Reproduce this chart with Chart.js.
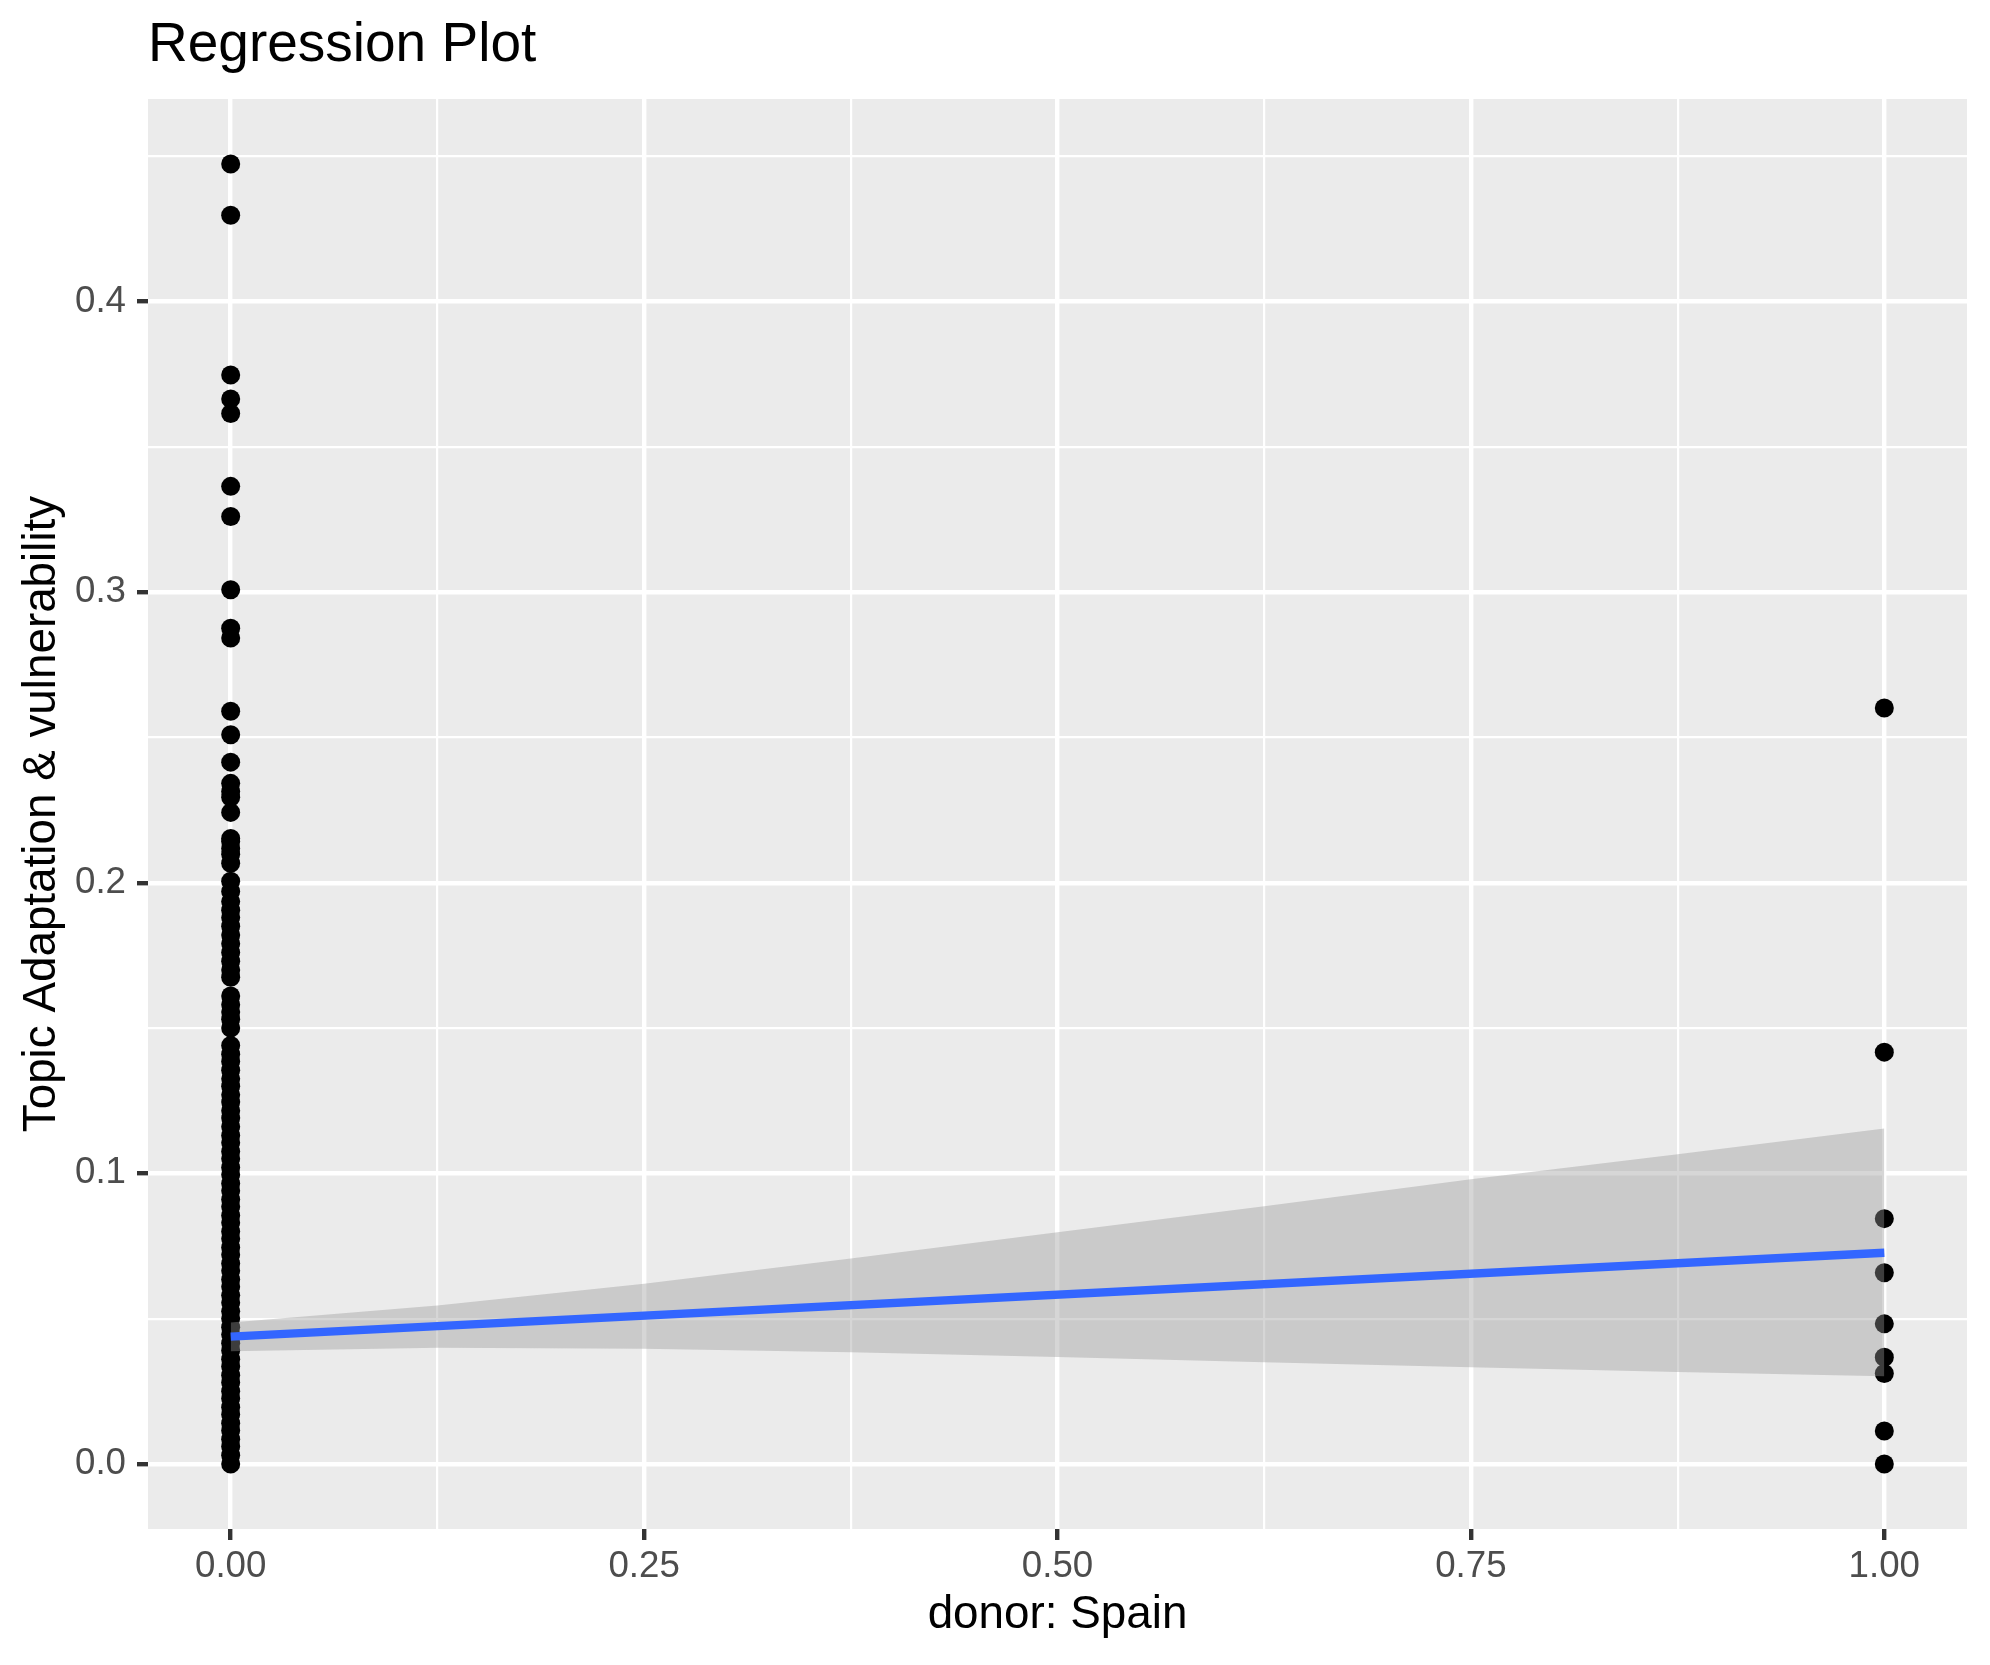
<!DOCTYPE html>
<html>
<head>
<meta charset="utf-8">
<script src="https://cdn.jsdelivr.net/npm/chart.js@4/dist/chart.umd.min.js"></script>
<style>
  html, body { margin: 0; padding: 0; background: #ffffff; }
  canvas { display: block; }
</style>
</head>
<body>
<canvas id="regChart" width="1990" height="1665"></canvas>
<script>
const spainNo = [
  0.4473, 0.4297, 0.3747, 0.3665, 0.3615, 0.3364, 0.3260, 0.3008, 0.2876, 0.2842,
  0.2590, 0.2509, 0.2415, 0.2342, 0.2314, 0.2294, 0.2242, 0.2152, 0.2142, 0.2118,
  0.2098, 0.2067,
  0.2005, 0.1970, 0.1935, 0.1905, 0.1880, 0.1850, 0.1820, 0.1790, 0.1760, 0.1730,
  0.1700, 0.1675, 0.1610, 0.1580, 0.1555, 0.1530, 0.1500, 0.1440, 0.1410, 0.1385,
  0.1355, 0.1325, 0.1300, 0.1270, 0.1245, 0.1215, 0.1190, 0.1160, 0.1130, 0.1105,
  0.1075, 0.1050, 0.1020, 0.0995, 0.0965, 0.0940, 0.0910, 0.0885, 0.0855, 0.0830,
  0.0800, 0.0775, 0.0745, 0.0720, 0.0690, 0.0665, 0.0635, 0.0610, 0.0580, 0.0555,
  0.0525, 0.0500, 0.0470, 0.0445, 0.0415, 0.0390, 0.0360, 0.0335, 0.0305, 0.0280,
  0.0250, 0.0225, 0.0195, 0.0170, 0.0140, 0.0115, 0.0085, 0.0060, 0.0030, 0.0000
];
// observations at donor = 1
const spainYes = [0.2601, 0.1417, 0.0844, 0.0658, 0.0482, 0.0367, 0.0311, 0.0113, 0.0000];

// fitted line and confidence band
const fitX = [0, 1];
const fitY = [0.0438, 0.0727];
const bandX = [0, 0.125, 0.25, 0.375, 0.5, 0.625, 0.75, 0.875, 1];
const bandUpper = [0.0487, 0.0545, 0.0620, 0.0707, 0.0797, 0.0887, 0.0980, 0.1066, 0.1154];
const bandLower = [0.0388, 0.0400, 0.0396, 0.0384, 0.0368, 0.0350, 0.0333, 0.0316, 0.0302];

// axes
const xMajor = [0, 0.25, 0.5, 0.75, 1];
const xLabels = ['0.00', '0.25', '0.50', '0.75', '1.00'];
const yMajor = [0, 0.1, 0.2, 0.3, 0.4];
const yLabels = ['0.0', '0.1', '0.2', '0.3', '0.4'];

const xLimits = [-0.05, 1.05];
const yLimits = [-0.0224, 0.4697];

function withMinor(major, lo, hi) {
  const step = major[1] - major[0];
  const out = [];
  for (let v = major[0] - step / 2; v <= hi + 1e-9; v += step / 2) {
    if (v >= lo - 1e-9) out.push(+v.toFixed(6));
  }
  return out;
}
function isMajor(list, v) {
  return list.some(m => Math.abs(m - v) < 1e-6);
}
function labelFor(list, labels, v) {
  const i = list.findIndex(m => Math.abs(m - v) < 1e-6);
  return i >= 0 ? labels[i] : '';
}

const panelBg = {
  id: 'panelBg',
  beforeDraw(chart) {
    const { ctx, chartArea } = chart;
    ctx.save();
    ctx.fillStyle = '#EBEBEB';
    ctx.fillRect(chartArea.left, chartArea.top, chartArea.right - chartArea.left, chartArea.bottom - chartArea.top);
    ctx.restore();
  }
};

const FONT = "'Liberation Sans', Arial, Helvetica, sans-serif";

const chartConfig = {
  type: 'scatter',
  data: {
    datasets: [
      {
        type: 'line',
        label: 'fit',
        data: fitX.map((x, i) => ({ x: x, y: fitY[i] })),
        borderColor: '#3366FF',
        borderWidth: 8.5,
        pointRadius: 0,
        fill: false,
        order: 0
      },
      {
        type: 'line',
        label: 'upper',
        data: bandX.map((x, i) => ({ x: x, y: bandUpper[i] })),
        borderWidth: 0,
        borderColor: 'rgba(0,0,0,0)',
        pointRadius: 0,
        fill: false,
        order: 1
      },
      {
        type: 'line',
        label: 'lower',
        data: bandX.map((x, i) => ({ x: x, y: bandLower[i] })),
        borderWidth: 0,
        borderColor: 'rgba(0,0,0,0)',
        backgroundColor: 'rgba(153,153,153,0.4)',
        pointRadius: 0,
        fill: '-1',
        order: 1
      },
      {
        label: 'points',
        data: spainNo.map(v => ({ x: 0, y: v })).concat(spainYes.map(v => ({ x: 1, y: v }))),
        backgroundColor: '#000000',
        borderWidth: 0,
        pointRadius: 9.5,
        order: 2
      }
    ]
  },
  options: {
    responsive: false,
    devicePixelRatio: 1,
    animation: false,
    layout: { padding: { top: 0, right: 23, bottom: 0, left: 0 } },
    plugins: {
      legend: { display: false },
      tooltip: { enabled: false },
      title: {
        display: true,
        text: 'Regression Plot',
        align: 'start',
        fullSize: false,
        color: '#000000',
        font: { family: FONT, size: 55, weight: 'normal' },
        padding: { top: 13, bottom: 20 }
      }
    },
    scales: {
      x: {
        type: 'linear',
        min: xLimits[0],
        max: xLimits[1],
        afterBuildTicks: axis => {
          axis.ticks = withMinor(xMajor, xLimits[0], xLimits[1]).map(v => ({ value: v }));
        },
        afterFit: axis => { axis.height = 136; },
        border: { display: false },
        grid: {
          color: '#FFFFFF',
          lineWidth: c => isMajor(xMajor, c.tick.value) ? 4.4 : 2.2,
          drawTicks: true,
          tickLength: 11,
          tickColor: c => isMajor(xMajor, c.tick.value) ? '#333333' : 'rgba(0,0,0,0)',
          tickWidth: 4.4
        },
        ticks: {
          autoSkip: false,
          maxRotation: 0,
          padding: 5,
          color: '#4D4D4D',
          font: { family: FONT, size: 36.7 },
          callback: v => labelFor(xMajor, xLabels, v)
        },
        title: {
          display: true,
          text: 'donor: Spain',
          color: '#000000',
          font: { family: FONT, size: 45.8 },
          padding: { top: 0, bottom: 22 }
        }
      },
      y: {
        type: 'linear',
        min: yLimits[0],
        max: yLimits[1],
        afterBuildTicks: axis => {
          axis.ticks = withMinor(yMajor, yLimits[0], yLimits[1]).map(v => ({ value: v }));
        },
        afterFit: axis => { axis.width = 148; },
        border: { display: false },
        grid: {
          color: '#FFFFFF',
          lineWidth: c => isMajor(yMajor, c.tick.value) ? 4.4 : 2.2,
          drawTicks: true,
          tickLength: 11,
          tickColor: c => isMajor(yMajor, c.tick.value) ? '#333333' : 'rgba(0,0,0,0)',
          tickWidth: 4.4
        },
        ticks: {
          autoSkip: false,
          padding: 11,
          color: '#4D4D4D',
          font: { family: FONT, size: 36.7 },
          callback: v => labelFor(yMajor, yLabels, v)
        },
        title: {
          display: true,
          text: 'Topic Adaptation & vulnerability',
          color: '#000000',
          font: { family: FONT, size: 45.8 },
          padding: { top: 15, bottom: 0 }
        }
      }
    }
  },
  plugins: [panelBg]
};

const regChart = new Chart(document.getElementById('regChart'), chartConfig);
</script>
</body>
</html>
